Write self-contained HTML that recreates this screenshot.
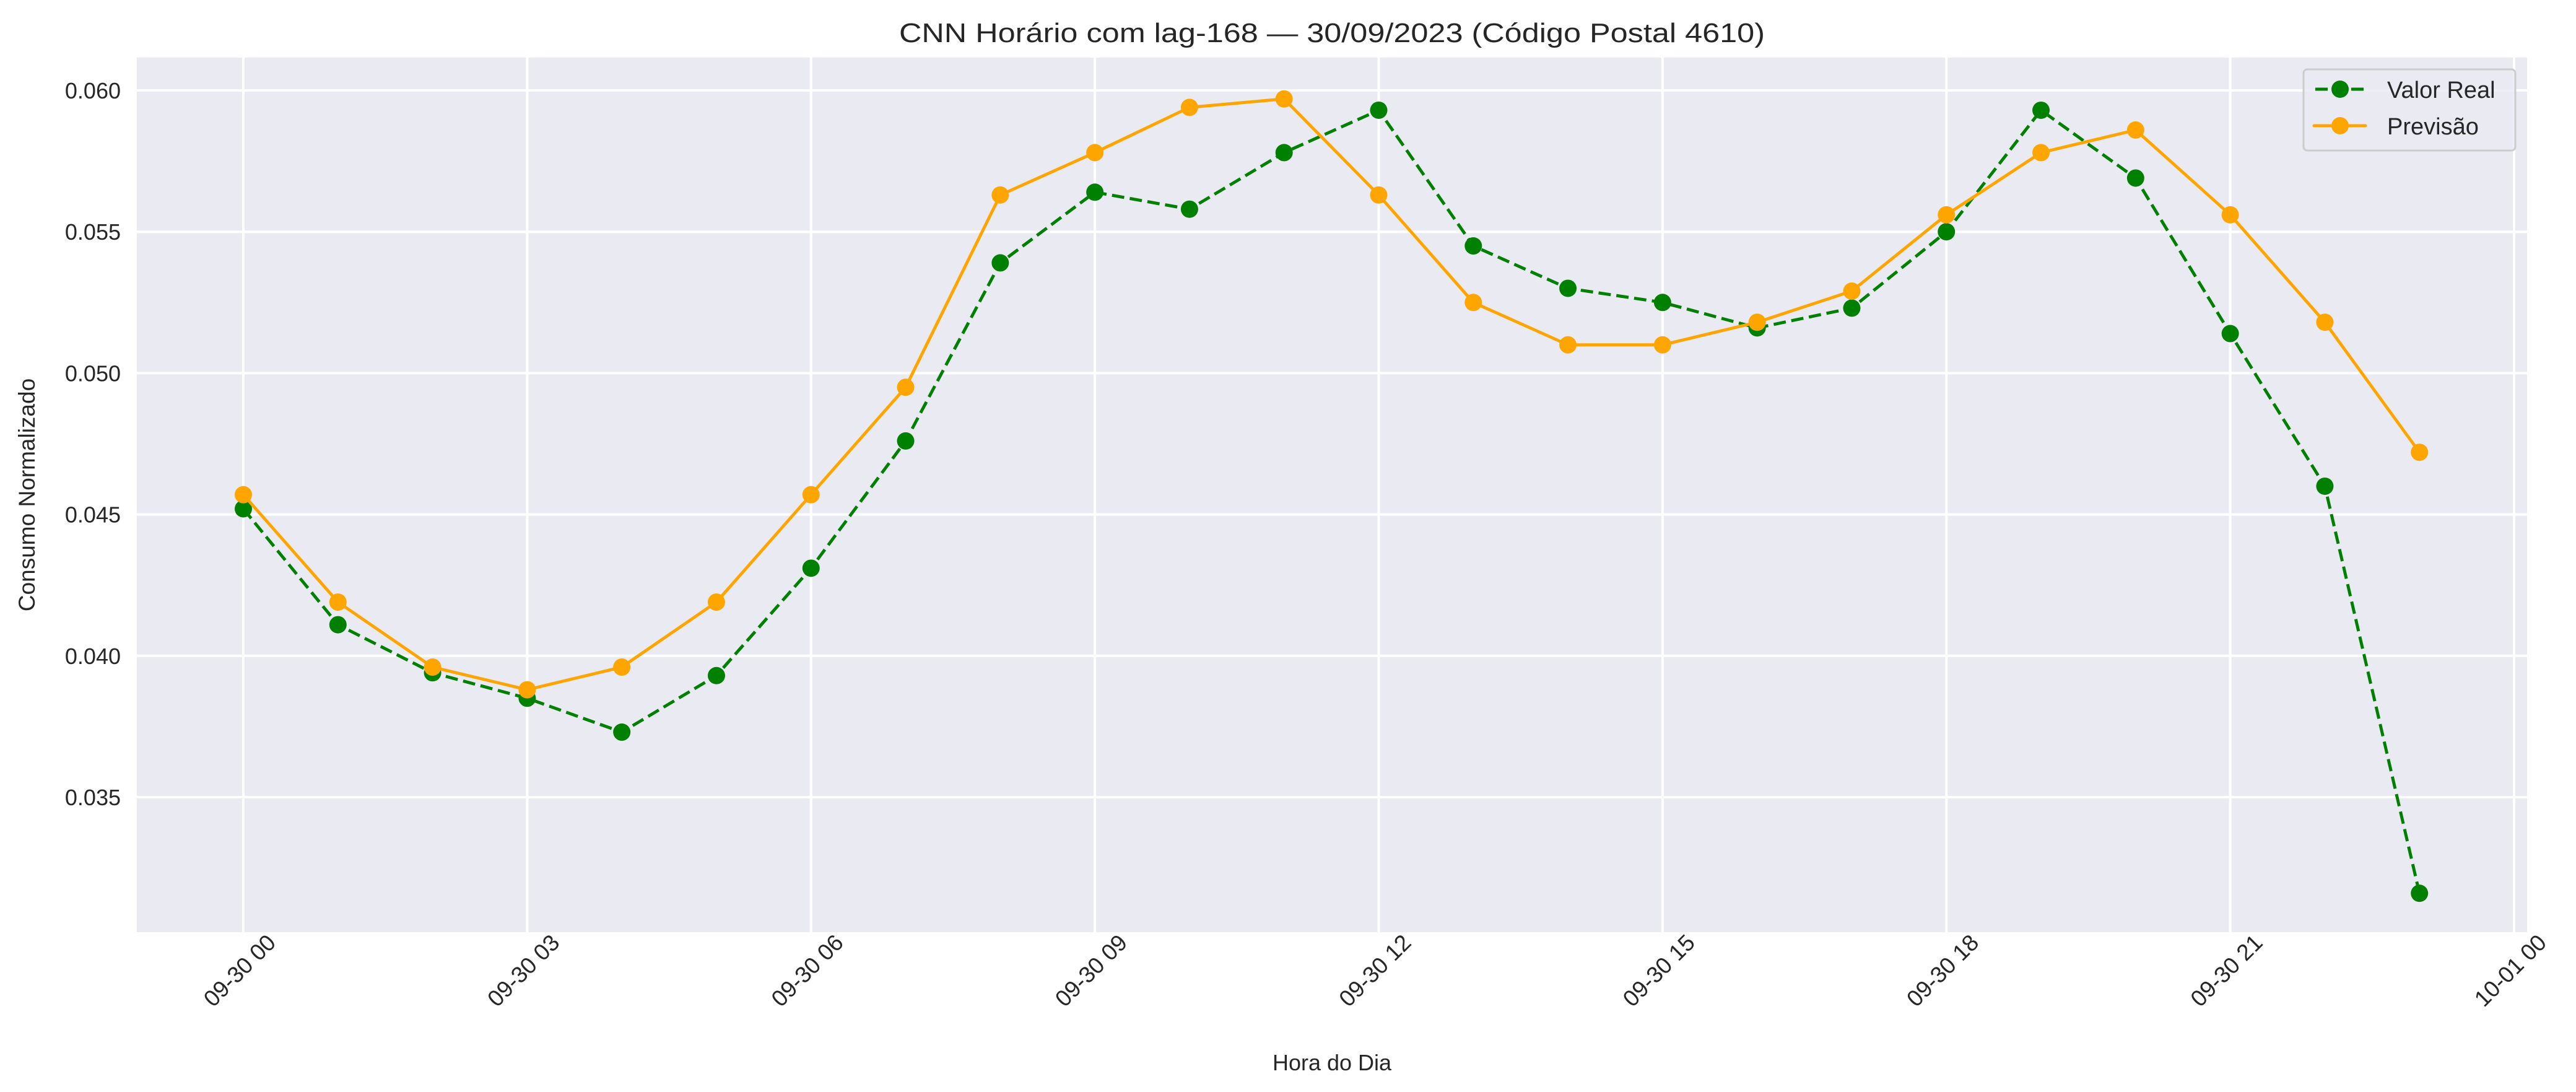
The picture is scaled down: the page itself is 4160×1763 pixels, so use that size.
<!DOCTYPE html>
<html><head><meta charset="utf-8"><style>
html,body{margin:0;padding:0;background:#fff;}
svg{display:block;font-family:"Liberation Sans",Arial,sans-serif;}
</style></head><body>
<svg id="chart" width="4160" height="1763" viewBox="0 0 4160 1763" xmlns="http://www.w3.org/2000/svg">
<rect x="221" y="93" width="3860" height="1412" fill="#eaeaf2"/>
<g id="grid"></g>
<g id="series"></g>
<g id="ticks"></g>
<text x="2151" y="68" text-anchor="middle" font-size="44" fill="#262626" textLength="1398" lengthAdjust="spacingAndGlyphs">CNN Horário com lag-168 — 30/09/2023 (Código Postal 4610)</text>
<text x="2151" y="1728" text-anchor="middle" font-size="36" fill="#262626">Hora do Dia</text>
<text transform="translate(56,799) rotate(-90)" text-anchor="middle" font-size="37" fill="#262626">Consumo Normalizado</text>
<g>
<rect x="3720" y="112" width="342" height="131" rx="6" fill="#eaeaf2" fill-opacity="0.8" stroke="#cccccc" stroke-width="3"/>
<g>
<line x1="3737" y1="144" x2="3820" y2="144" stroke="#008000" stroke-width="5" stroke-dasharray="20,9" stroke-dashoffset="-2"/>
<circle cx="3779" cy="144" r="14" fill="#008000"/>
<text x="3855" y="158" font-size="38" fill="#262626">Valor Real</text>
</g>
<g>
<line x1="3737" y1="203" x2="3820" y2="203" stroke="#ffa500" stroke-width="5" stroke-linecap="round"/>
<circle cx="3779" cy="203" r="14" fill="#ffa500"/>
<text x="3855" y="217" font-size="38" fill="#262626">Previsão</text>
</g>
</g>
</svg>
<script>
const hours = [0,1,2,3,4,5,6,7,8,9,10,11,12,13,14,15,16,17,18,19,20,21,22,23];
const valorReal = [0.0452,0.0411,0.0394,0.0385,0.0373,0.0393,0.0431,0.0476,0.0539,0.0564,0.0558,0.0578,0.0593,0.0545,0.0530,0.0525,0.0516,0.0523,0.0550,0.0593,0.0569,0.0514,0.0460,0.0316];
const previsao = [0.0457,0.0419,0.0396,0.0388,0.0396,0.0419,0.0457,0.0495,0.0563,0.0578,0.0594,0.0597,0.0563,0.0525,0.0510,0.0510,0.0518,0.0529,0.0556,0.0578,0.0586,0.0556,0.0518,0.0472];
const yTicks = [0.035,0.040,0.045,0.050,0.055,0.060];
const xTickHours = [0,3,6,9,12,15,18,21,24];
const xTickLabels = ["09-30 00","09-30 03","09-30 06","09-30 09","09-30 12","09-30 15","09-30 18","09-30 21","10-01 00"];

const NS = "http://www.w3.org/2000/svg";
function xPos(h){ return 393 + h*(4060-393)/24; }
function yPos(v){ return 146 + (0.060 - v)/0.005*228.2; }
function mk(tag, attrs, parent){ const e=document.createElementNS(NS,tag); for(const k in attrs) e.setAttribute(k,attrs[k]); parent.appendChild(e); return e; }

const grid = document.getElementById('grid');
const ticks = document.getElementById('ticks');
yTicks.forEach(v=>{
  const y=yPos(v);
  const l=mk('line',{x1:221,x2:4081,y1:y,y2:y,stroke:'#ffffff','stroke-width':4},grid);
  
  
  const t=mk('text',{x:195,y:y+13,'text-anchor':'end','font-size':36,fill:'#262626'},ticks);
  t.textContent=v.toFixed(3);
  
  
});
xTickHours.forEach((h,i)=>{
  const x=xPos(h);
  const l=mk('line',{x1:x,x2:x,y1:93,y2:1505,stroke:'#ffffff','stroke-width':4},grid);
  
  
  const t=mk('text',{transform:`translate(${x-6},${1567}) rotate(-45)`,'text-anchor':'middle','dominant-baseline':'central','font-size':37,fill:'#262626'},ticks);
  t.textContent=xTickLabels[i];
  
  
});

const series = document.getElementById('series');
function drawSeries(vals,color,dashed,name){
  const g=mk('g',{},series);
  
  
  const pts=vals.map((v,i)=>xPos(hours[i])+','+yPos(v)).join(' ');
  const attrs={points:pts,fill:'none',stroke:color,'stroke-width':5,'stroke-linejoin':'round'};
  if(dashed) attrs['stroke-dasharray']='20,9';
  const p=mk('polyline',attrs,g);
  
  
  vals.forEach((v,i)=>{
    const c=mk('circle',{cx:xPos(hours[i]),cy:yPos(v),r:14,fill:color},g);
    
    
  });
}
drawSeries(valorReal,'#008000',true,'valor-real-series');
drawSeries(previsao,'#ffa500',false,'previsao-series');
</script>
</body></html>
